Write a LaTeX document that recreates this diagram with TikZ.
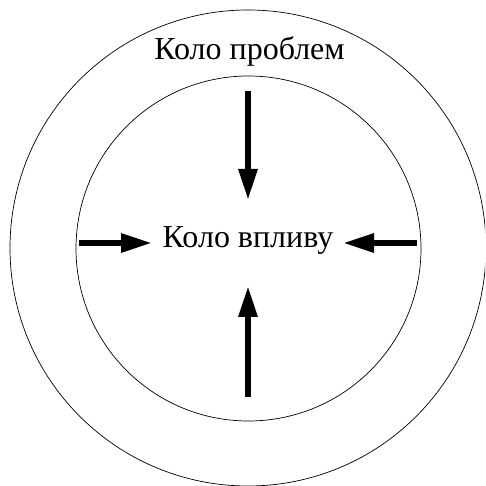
\documentclass[tikz,border=0pt]{standalone}
\usepackage{fontspec}
\setmainfont{Liberation Serif}
\usetikzlibrary{arrows.meta}
\begin{document}
\begin{tikzpicture}[x=1pt,y=1pt,
  ring/.style={draw=black,line width=0.7pt},
  bigarrow/.style={line width=6pt,-{Triangle[length=31pt,width=18pt]}},
  lbl/.style={font=\fontsize{32}{35}\selectfont,anchor=base,inner sep=0pt}]
\useasboundingbox (0,0) rectangle (485,486);
\clip (0,0) rectangle (485,486);
\draw[ring] (248,238) circle (238);
\draw[ring] (248.5,237.5) circle (172.5);
\node[lbl] (outer) at (249.5,426) {Коло проблем};
\node[lbl] (inner) at (248,238) {Коло впливу};
\coordinate (ts) at (248,395);
\coordinate (tt) at (248,286);
\coordinate (bs) at (248,89);
\coordinate (bt) at (248,200);
\coordinate (ls) at (79,243);
\coordinate (lt) at (152,243);
\coordinate (rs) at (417,243);
\coordinate (rt) at (343,243);
\draw[bigarrow] (ts) -- (tt);
\draw[bigarrow] (bs) -- (bt);
\draw[bigarrow] (ls) -- (lt);
\draw[bigarrow] (rs) -- (rt);
\end{tikzpicture}
\end{document}
